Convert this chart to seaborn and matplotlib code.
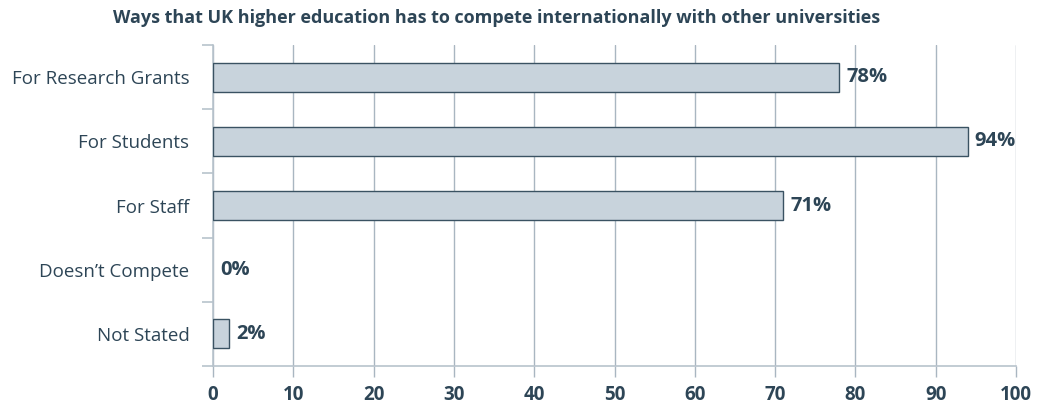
import matplotlib
matplotlib.use("Agg")
import matplotlib.pyplot as plt
import seaborn as sns
import pandas as pd

categories = ["For Research Grants", "For Students", "For Staff", "Doesn\u2019t Compete", "Not Stated"]
values = [78, 94, 71, 0, 2]
value_labels = ["78%", "94%", "71%", "0%", "2%"]
x_ticks = [0, 10, 20, 30, 40, 50, 60, 70, 80, 90, 100]

TEXT = "#2d4556"
GRID = "#a9b6c1"
SPINE = "#b8c3cc"
FILL = "#c8d3dc"
EDGE = "#3a5262"

sns.set_theme(style="white")
plt.rcParams["font.family"] = ["Open Sans", "DejaVu Sans"]

df = pd.DataFrame({"cat": categories, "val": values})

fig = plt.figure(figsize=(10.45, 4.11), dpi=100)
ax = fig.add_axes([213 / 1045, 45 / 411, (1016 - 213) / 1045, (366 - 45) / 411])

sns.barplot(data=df, x="val", y="cat", orient="h", color=FILL, edgecolor=EDGE,
            linewidth=1.0, width=0.45, saturation=1, ax=ax, zorder=3)
for patch, v in zip(ax.patches, values):
    if v == 0:
        patch.set_linewidth(0)

ax.set_xlim(0, 100)
ax.set_ylim(4.5, -0.5)
ax.set_xticks(x_ticks)
ax.set_xticklabels([str(t) for t in x_ticks], fontsize=13.5, fontweight="bold", color=TEXT)
ax.tick_params(axis="x", length=8, width=1, color=GRID, pad=6, bottom=True)
ax.grid(axis="x", color=GRID, linewidth=1, zorder=0)
ax.grid(axis="y", visible=False)

ax.set_yticks(range(len(categories)))
ax.set_yticklabels(categories, fontsize=13.5, color=TEXT)
ax.tick_params(axis="y", which="major", length=0, pad=17)
ax.set_yticks([i - 0.5 for i in range(len(categories) + 1)], minor=True)
ax.tick_params(axis="y", which="minor", length=8, width=1.2, color=SPINE, left=True)

for s in ["top", "right"]:
    ax.spines[s].set_visible(False)
for s in ["left", "bottom"]:
    ax.spines[s].set_color(SPINE)
    ax.spines[s].set_linewidth(1.2)

ax.set_xlabel("")
ax.set_ylabel("")

for i, (v, lab) in enumerate(zip(values, value_labels)):
    ax.annotate(lab, xy=(v, i), xytext=(5, 0), textcoords="offset points",
                ha="left", va="center", fontsize=14.5, fontweight="bold", color=TEXT, zorder=4)

fig.text(497 / 1045, 1 - 18 / 411, "Ways that UK higher education has to compete internationally with other universities",
         ha="center", va="center", fontsize=13, fontweight="bold", color=TEXT)

fig.savefig("out.png", dpi=100)
